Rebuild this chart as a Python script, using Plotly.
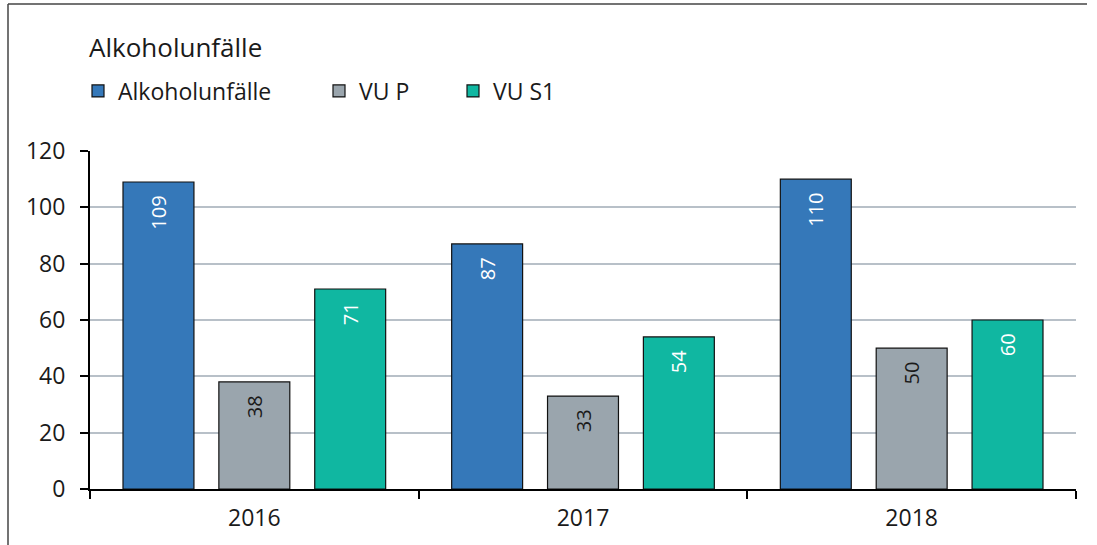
import plotly.graph_objects as go

years = ["2016", "2017", "2018"]
series_names = ["Alkoholunfälle", "VU P", "VU S1"]
alkohol = [109, 87, 110]
vu_p = [38, 33, 50]
vu_s1 = [71, 54, 60]
y_ticks = [0, 20, 40, 60, 80, 100, 120]

colors = ["#3578B9", "#9AA5AD", "#10B7A1"]
text_colors = ["white", "#1a1a1a", "white"]
FONT = "Open Sans"

W, H = 1097, 545
L, R, T, B = 90, 1076, 151, 489


def px(xp):
    return (xp - L) / (R - L)


def py(yp):
    return (B - yp) / (B - T)


legend_ids = ["legend", "legend2", "legend3"]
legend_x = [78, 319, 453]

fig = go.Figure()
for name, vals, c, tc, lg in zip(series_names, [alkohol, vu_p, vu_s1], colors, text_colors, legend_ids):
    fig.add_trace(go.Bar(
        x=years, y=vals, name=name, legend=lg,
        marker=dict(color=c, line=dict(color="#111111", width=1.2)),
        text=[str(v) + "\u00a0\u00a0" for v in vals], textposition="inside",
        insidetextanchor="end", textangle=-90,
        textfont=dict(color=tc, size=20, family=FONT),
        cliponaxis=False,
    ))

legend_common = dict(orientation="h", xanchor="left", y=py(91), yanchor="middle",
                     font=dict(size=23, family=FONT, color="#1a1a1a"), bgcolor="rgba(0,0,0,0)",
                     itemclick=False)

fig.update_layout(
    width=W, height=H,
    margin=dict(l=L, r=W - R, t=T, b=H - B, autoexpand=False),
    paper_bgcolor="white", plot_bgcolor="white",
    barmode="group", bargap=0.125, bargroupgap=0.26,
    font=dict(family=FONT, color="#1a1a1a", size=20),
    showlegend=True,
    legend=dict(x=px(legend_x[0]), **legend_common),
    legend2=dict(x=px(legend_x[1]), **legend_common),
    legend3=dict(x=px(legend_x[2]), **legend_common),
)

fig.update_yaxes(
    range=[0, 120], tickvals=y_ticks, ticktext=[str(v) for v in y_ticks],
    showgrid=True, gridcolor="#B8C0C8", gridwidth=1.5,
    showline=True, linecolor="black", linewidth=2,
    ticks="outside", ticklen=8, tickwidth=2, tickcolor="black",
    tickfont=dict(size=23, family=FONT, color="#1a1a1a"),
    ticklabelstandoff=10, zeroline=False, fixedrange=True,
)
fig.update_xaxes(
    type="category", showline=True, linecolor="black", linewidth=2,
    ticks="outside", ticklen=8, tickwidth=2, tickcolor="black",
    tickson="boundaries", showgrid=False,
    tickfont=dict(size=23, family=FONT, color="#1a1a1a"),
    ticklabelstandoff=7, fixedrange=True,
)

# title
fig.add_annotation(
    text="Alkoholunfälle", xref="paper", yref="paper",
    x=px(87), y=py(47), xanchor="left", yanchor="middle",
    showarrow=False, font=dict(size=26, family=FONT, color="#1a1a1a"),
)

# outer frame (top and left edges)
fig.add_shape(type="line", xref="paper", yref="paper", x0=px(8), x1=px(1087), y0=py(4), y1=py(4),
              line=dict(color="#444444", width=1.5))
fig.add_shape(type="line", xref="paper", yref="paper", x0=px(8), x1=px(8), y0=py(4), y1=py(560),
              line=dict(color="#444444", width=1.5))

fig.write_html("out.html", config={"displayModeBar": False},
               post_script="document.body.style.margin='0';")
